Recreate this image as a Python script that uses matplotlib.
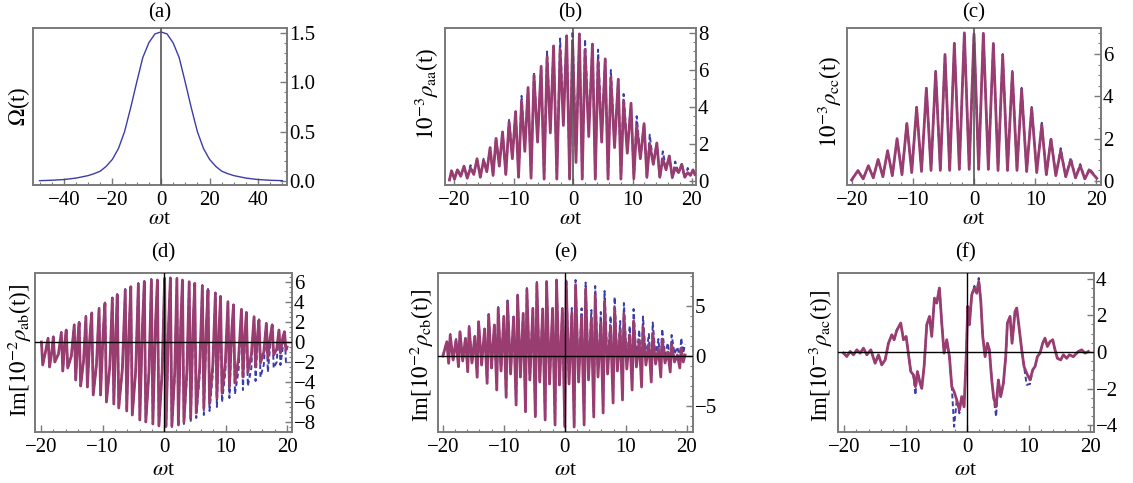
import numpy as np
import matplotlib
matplotlib.use('Agg')
import matplotlib.pyplot as plt
from matplotlib.ticker import MultipleLocator

plt.rcParams['font.family'] = ['Liberation Serif', 'DejaVu Serif']
plt.rcParams['mathtext.fontset'] = 'stix'

SOLID = '#993d71'
DASH = '#3c3ca8'
FRAME = '#7a7a7a'

# (a) pulse Omega(t)
a_t = [-50, -45, -40, -35, -30, -27.5, -25, -22.5, -20, -17.5, -15, -12.5, -10, -7.5, -5, -2.5, 0,
       2.5, 5, 7.5, 10, 12.5, 15, 17.5, 20, 22.5, 25, 27.5, 30, 35, 40, 45, 50]
a_omega = [0.004, 0.008, 0.015, 0.03, 0.055, 0.075, 0.10, 0.15, 0.22, 0.33, 0.50, 0.74, 1.00, 1.25, 1.40, 1.49, 1.51,
           1.49, 1.40, 1.25, 1.00, 0.74, 0.50, 0.33, 0.22, 0.15, 0.10, 0.075, 0.055, 0.03, 0.015, 0.008, 0.004]

# (b) rho_aa: peaks and troughs between them
b_peak_t = [-20.5, -19.5, -18.4, -17.3, -16.2, -15.1, -14.0, -13.0, -11.9, -10.8, -9.7, -8.7, -7.6, -6.6,
            -5.4, -4.4, -3.3, -2.2, -1.1, -0.1, 1.05, 2.0, 3.25, 4.2, 5.4, 6.35, 7.6, 8.5, 9.75, 10.7,
            11.95, 12.9, 14.1, 15.1, 16.2, 17.2, 18.3, 19.3, 20.2]
b_peak_solid = [0.55, 0.6, 0.8, 0.7, 1.2, 1.1, 1.8, 2.3, 2.65, 3.2, 3.75, 4.3, 5.05, 5.7, 6.2, 6.7, 7.3,
                7.1, 7.85, 7.6, 7.95, 7.1, 7.4, 6.5, 6.6, 5.6, 5.5, 4.3, 4.2, 3.0, 3.1, 2.0, 2.05, 1.2,
                1.35, 0.7, 0.9, 0.45, 0.6]
b_peak_dash = [0.55, 0.65, 0.8, 0.85, 1.2, 1.2, 1.8, 2.35, 2.65, 3.3, 3.75, 4.6, 5.05, 5.9, 6.2, 7.0, 7.3,
               7.7, 7.85, 8.1, 7.95, 7.66, 7.4, 7.1, 6.6, 6.0, 5.5, 4.7, 4.2, 3.5, 3.1, 2.5, 2.05, 1.6,
               1.35, 1.05, 0.9, 0.7, 0.6]
b_trough_solid = [0.1, 0.25, 0.15, 0.35, 0.2, 0.5, 0.3, 0.8, 0.35, 1.2, 0.2, 1.6, 0.15, 2.1, 0.1, 2.6,
                  0.1, 3.0, 0.1, 1.0, 0.1, 2.4, 0.1, 2.1, 0.1, 1.8, 0.1, 1.5, 0.15, 1.2, 0.2, 0.9, 0.2,
                  0.6, 0.2, 0.45, 0.2, 0.3]
b_trough_dash = [0.1, 0.25, 0.15, 0.35, 0.2, 0.5, 0.3, 0.8, 0.35, 1.3, 0.2, 1.8, 0.15, 2.3, 0.1, 2.8,
                 0.1, 3.4, 0.1, 1.2, 0.1, 2.8, 0.1, 2.5, 0.1, 2.0, 0.1, 1.7, 0.1, 1.3, 0.1, 0.9, 0.1,
                 0.7, 0.15, 0.4, 0.15, 0.3]

# (c) rho_cc
c_peak_t = [-19.0, -17.3, -15.7, -14.15, -12.6, -11.0, -9.4, -7.8, -6.28, -4.75, -3.22, -1.58, 0.0,
            1.53, 3.17, 4.7, 6.28, 7.8, 9.45, 11.1, 12.6, 14.2, 15.85, 17.4, 18.9]
c_peak_solid = [0.49, 0.72, 1.02, 1.43, 2.0, 2.72, 3.48, 4.38, 5.17, 5.98, 6.5, 7.0, 6.95,
                6.98, 6.5, 5.95, 5.12, 4.33, 3.43, 2.65, 1.97, 1.43, 0.99, 0.72, 0.52]
c_peak_dash = [0.49, 0.72, 1.02, 1.43, 2.0, 2.72, 3.5, 4.4, 5.2, 6.0, 6.52, 7.0, 6.95,
               7.0, 6.55, 6.0, 5.2, 4.4, 3.5, 2.75, 2.05, 1.55, 1.1, 0.8, 0.6]
c_trough = [0.1, 0.15, 0.2, 0.25, 0.3, 0.4, 0.45, 0.5, 0.5, 0.5, 0.55, 0.55,
            0.55, 0.55, 0.5, 0.5, 0.5, 0.45, 0.4, 0.3, 0.25, 0.2, 0.15, 0.1]

# (d) Im rho_ab: spikes (top, bottom) with a level between spikes
d_t = [-18.75, -17.9, -16.6, -15.8, -14.5, -13.7, -12.6, -11.65, -10.46, -9.5, -8.3, -7.5, -6.2, -5.3,
       -4.07, -3.1, -1.95, -0.97, 0.2, 1.14, 2.2, 3.1, 4.2, 5.1, 6.34, 7.26, 8.46, 9.3, 10.5, 11.4,
       12.7, 13.5, 14.75, 15.55, 16.75, 17.7, 18.8, 19.7]
d_top_solid = [0.37, 0.5, 0.93, 1.2, 1.7, 1.93, 2.53, 2.87, 3.37, 3.87, 4.37, 4.7, 5.2, 5.53, 5.8, 6.03,
               6.2, 6.2, 6.37, 6.37, 6.37, 6.2, 6.03, 5.87, 5.6, 5.2, 4.87, 4.53, 4.03, 3.7, 3.27, 2.93,
               2.53, 2.2, 1.87, 1.7, 1.2, 1.03]
d_top_dash = [0.4, 0.55, 1.0, 1.25, 1.75, 2.0, 2.6, 2.95, 3.45, 3.95, 4.45, 4.8, 5.3, 5.6, 5.9, 6.1,
              6.3, 6.3, 6.45, 6.45, 6.45, 6.3, 6.1, 5.95, 5.7, 5.3, 4.95, 4.6, 4.1, 3.75, 3.3, 3.0,
              2.6, 2.25, 1.9, 1.75, 1.25, 1.05]
d_bot_solid = [-2.5, -2.0, -2.9, -2.6, -3.8, -4.4, -4.5, -5.3, -5.3, -6.0, -6.2, -6.6, -6.9, -7.3, -7.8,
               -8.0, -8.2, -8.4, -8.4, -8.4, -8.3, -8.0, -7.6, -7.1, -6.6, -6.1, -5.6, -5.1, -4.5, -4.1,
               -3.5, -3.0, -2.5, -2.1, -1.6, -1.3, -1.1, -0.8]
d_bot_dash = [-2.5, -2.0, -2.9, -2.6, -3.8, -4.4, -4.5, -5.3, -5.3, -6.0, -6.2, -6.6, -6.9, -7.3, -7.8,
              -8.0, -8.2, -8.4, -8.5, -8.5, -8.4, -8.2, -8.0, -7.6, -7.3, -6.9, -6.5, -6.0, -5.6, -5.2,
              -4.8, -4.4, -3.9, -3.5, -3.0, -2.6, -2.3, -2.0]
d_mid_solid = [-1.0, -1.2, 0.0, -1.4, 0.3, -1.8, 0.6, -2.2, 0.9, -2.5, 1.1, -2.7, 1.4, -2.9, 1.6, -3.0,
               1.8, -3.0, 1.9, -3.0, 1.9, -2.8, 1.8, -2.6, 1.6, -2.3, 1.4, -2.0, 1.2, -1.6, 1.0, -1.3,
               0.8, -1.0, 0.6, -0.7, 0.5]
d_mid_dash = [-1.0, -1.2, 0.0, -1.4, 0.3, -1.8, 0.6, -2.2, 0.9, -2.5, 1.1, -2.7, 1.4, -2.9, 1.6, -3.0,
              1.8, -3.0, 1.7, -3.4, 1.6, -3.4, 1.4, -3.3, 1.2, -3.2, 1.0, -3.0, 0.7, -2.8, 0.4, -2.6,
              0.1, -2.3, -0.2, -2.0, -0.5]

# (e) Im rho_cb: per cycle main peak P, shallow dip q, side peak S, deep dip D
e_t = [-18.8, -17.2, -15.7, -14.15, -12.5, -10.93, -9.4, -7.75, -6.23, -4.6, -3.0, -1.37, 0.22,
       1.75, 3.4, 4.97, 6.5, 8.15, 9.67, 11.26, 12.8, 14.4, 15.95, 17.5, 19.07]
e_P_solid = [2.1, 2.43, 2.87, 3.43, 4.1, 4.77, 5.43, 6.1, 6.67, 7.27, 7.43, 7.6, 7.4,
             7.1, 6.7, 6.1, 5.5, 4.8, 4.2, 3.5, 2.9, 2.3, 1.7, 1.2, 0.8]
e_P_dash = [2.2, 2.55, 3.0, 3.55, 4.2, 4.9, 5.55, 6.2, 6.8, 7.4, 7.6, 7.75, 7.7,
            7.6, 7.35, 7.0, 6.5, 5.9, 5.3, 4.7, 3.95, 3.35, 2.7, 2.1, 1.8]
e_q_solid = [-0.4, -0.5, -0.7, -0.9, -1.2, -1.5, -1.8, -2.1, -2.4, -2.6, -2.8, -2.9,
             -2.8, -2.6, -2.4, -2.1, -1.8, -1.5, -1.3, -1.1, -0.9, -0.8, -0.7, -0.6]
e_q_dash = [-0.4, -0.5, -0.7, -0.9, -1.2, -1.5, -1.8, -2.1, -2.4, -2.6, -2.8, -2.9,
            -2.6, -2.3, -2.0, -1.6, -1.2, -0.9, -0.6, -0.4, -0.2, 0.0, 0.1, 0.2]
e_S_solid = [1.6, 1.77, 1.93, 2.67, 3.1, 3.93, 3.87, 4.27, 4.77, 4.67, 4.77, 4.7,
             4.3, 4.0, 3.8, 3.4, 3.0, 2.6, 2.1, 1.6, 1.2, 0.8, 0.4, 0.1]
e_S_dash = [1.7, 1.85, 2.0, 2.75, 3.2, 4.0, 3.95, 4.35, 4.85, 4.75, 4.85, 4.8,
            4.8, 4.77, 4.6, 4.4, 4.0, 3.5, 3.0, 2.6, 2.2, 1.7, 1.3, 0.9]
e_D_solid = [-1.07, -1.57, -2.13, -2.73, -3.4, -4.13, -4.9, -5.57, -6.07, -6.4, -6.9, -7.07,
             -7.1, -6.9, -6.1, -5.7, -4.7, -4.4, -3.4, -3.1, -2.6, -2.1, -1.6, -1.2]
e_D_dash = [-1.07, -1.57, -2.13, -2.73, -3.4, -4.13, -4.9, -5.57, -6.07, -6.4, -6.9, -7.07,
            -7.0, -6.5, -5.6, -5.0, -4.0, -3.5, -2.6, -2.1, -1.5, -1.0, -0.5, -0.2]

# (f) Im rho_ac
f_t = [-20.1, -19.57, -19.02, -18.48, -17.94, -17.4, -16.86, -16.31, -15.66, -14.96,
       -14.42, -13.88, -13.33, -12.79, -12.25, -11.87, -11.44, -10.79, -10.35, -9.92,
       -9.16, -8.73, -8.4, -8.08, -7.64, -7.37, -6.99, -6.56, -6.12, -5.75,
       -5.31, -4.93, -4.5, -4.12, -3.74, -3.31, -2.87, -2.49, -2.11, -1.68,
       -1.25, -0.87, -0.49, -0.16, 0.11, 0.38, 0.76, 1.19, 1.57, 1.9,
       2.22, 2.55, 2.93, 3.31, 3.63, 4.01, 4.34, 4.72, 5.09, 5.47,
       5.91, 6.29, 6.56, 6.99, 7.32, 7.8, 8.08, 8.51, 8.89, 9.27,
       9.7, 10.24, 10.68, 11.06, 11.44, 11.87, 12.3, 12.68, 13.06, 13.5,
       13.93, 14.31, 14.69, 15.23, 15.66, 16.21, 16.64, 17.29, 18.1, 18.64,
       19.19, 19.73]
f_solid = [-0.07, -0.25, 0.02, -0.16, 0.11, -0.07, 0.2, -0.16, 0.11, -0.62,
           -0.16, -0.71, -0.44, 0.47, 0.93, 0.66, 1.17, 1.57, 0.66, 0.84,
           -1.07, -1.26, -1.9, -1.07, -1.71, -1.99, -0.8, 1.48, 1.93, 0.84,
           2.93, 2.66, 3.48, 1.57, -0.07, 0.66, -0.26, -1.89, -2.17, -2.62,
           -3.17, -2.44, -3.0, -0.44, 2.48, 1.48, 3.11, 3.48, 3.2, 3.84,
           2.84, 0.84, -0.26, 0.47, 0.11, -1.53, -2.53, -2.99, -1.53, -2.44,
           -1.71, -0.26, 1.57, 1.93, 0.47, 2.2, 2.39, 1.2, 0.11, -0.8,
           -1.17, -1.53, -0.98, -0.8, -0.26, -0.07, 0.47, 0.75, 0.29, 0.56,
           0.66, 0.11, -0.35, -0.44, -0.16, -0.35, -0.16, -0.26, 0.02, 0.11,
           -0.07, 0.02]
f_dash = [-0.07, -0.25, 0.02, -0.16, 0.11, -0.07, 0.2, -0.16, 0.11, -0.62,
          -0.16, -0.71, -0.44, 0.47, 0.93, 0.66, 1.17, 1.57, 0.66, 0.84,
          -1.07, -1.26, -2.35, -1.07, -1.71, -1.99, -0.8, 1.48, 1.93, 0.84,
          2.93, 2.66, 3.55, 1.57, -0.07, 0.66, -0.26, -1.89, -4.08, -2.62,
          -3.35, -2.44, -3.0, -0.44, 2.48, 1.48, 3.11, 3.6, 3.2, 4.03,
          2.84, 0.84, -0.26, 0.47, 0.11, -1.53, -2.53, -3.53, -1.53, -2.44,
          -1.71, -0.26, 1.57, 1.93, 0.47, 2.2, 2.39, 1.2, 0.11, -0.8,
          -1.8, -1.75, -0.98, -0.8, -0.26, -0.07, 0.47, 0.75, 0.29, 0.56,
          0.66, 0.11, -0.35, -0.44, -0.16, -0.35, -0.16, -0.26, 0.02, 0.11,
          -0.07, 0.02]


def chain_peaks(t0, v0, tp, vp, vt, t1, v1):
    t, v = [t0], [v0]
    for i in range(len(tp)):
        t.append(tp[i])
        v.append(vp[i])
        if i < len(vt):
            t.append(0.5 * (tp[i] + tp[i + 1]))
            v.append(vt[i])
    t.append(t1)
    v.append(v1)
    return t, v


def chain_spikes(t0, v0, tk, top, bot, mid, t1, v1):
    t, v = list(t0), list(v0)
    for i in range(len(tk)):
        t += [tk[i] - 0.12, tk[i] + 0.12]
        v += [top[i], bot[i]]
        if i < len(mid):
            t.append(0.5 * (tk[i] + tk[i + 1]) + 0.06)
            v.append(mid[i])
    return t + list(t1), v + list(v1)


def chain_cycles(t0, v0, tk, P, q, S, D, t1, v1):
    t, v = list(t0), list(v0)
    for i in range(len(tk)):
        t.append(tk[i])
        v.append(P[i])
        if i < len(tk) - 1:
            dt = tk[i + 1] - tk[i]
            t += [tk[i] + 0.3 * dt, tk[i] + 0.6 * dt, tk[i] + 0.85 * dt]
            v += [q[i], S[i], D[i]]
    return t + list(t1), v + list(v1)


def frame(ax, xlim, ylim, xmaj, xmin, ymaj, ymin):
    ax.set_xlim(xlim)
    ax.set_ylim(ylim)
    for s in ax.spines.values():
        s.set_color(FRAME)
        s.set_linewidth(1.4)
    ax.xaxis.set_major_locator(MultipleLocator(xmaj))
    ax.xaxis.set_minor_locator(MultipleLocator(xmin))
    ax.yaxis.set_major_locator(MultipleLocator(ymaj))
    ax.yaxis.set_minor_locator(MultipleLocator(ymin))
    ax.yaxis.tick_right()
    ax.tick_params(which='both', direction='in', color=FRAME, labelsize=15,
                   left=False, top=False, right=True, bottom=True)
    ax.tick_params(which='major', length=5, width=1)
    ax.tick_params(which='minor', length=2.5, width=0.8)
    ax.tick_params(axis='x', pad=4)
    ax.tick_params(axis='y', pad=1.5)


def labels(ax, title, ylabel, ly, lx, ty, xy):
    ax.text(0.5, ty, title, transform=ax.transAxes, ha='center', va='center', fontsize=15)
    ax.text(0.5, xy, r'$\omega$t', transform=ax.transAxes, ha='center', va='center', fontsize=16)
    ax.text(lx, ly, ylabel, transform=ax.transAxes, ha='center', va='center', rotation=90, fontsize=16.5)


def two_lines(ax, t_s, v_s, t_d, v_d):
    ax.plot(t_d, v_d, color=DASH, lw=1.4, dashes=(2.5, 1.5), zorder=2)
    ax.plot(t_s, v_s, color=SOLID, lw=2.0, zorder=3)


fig = plt.figure(figsize=(11.33, 4.83), dpi=100)
W, H = 1133.0, 483.0


def box(l, r, t, b):
    return [l / W, (H - b) / H, (r - l) / W, (b - t) / H]


ax_a = fig.add_axes(box(33, 287, 28, 185))
ax_b = fig.add_axes(box(445, 696, 28, 185))
ax_c = fig.add_axes(box(847, 1101, 28, 185))
ax_d = fig.add_axes(box(35, 292, 273, 432))
ax_e = fig.add_axes(box(438, 693, 273, 432))
ax_f = fig.add_axes(box(838, 1094, 273, 432))

# (a)
ax_a.plot(a_t, a_omega, color=DASH, lw=1.0, zorder=3)
frame(ax_a, (-52.7, 51.9), (-0.04, 1.55), 20, 5, 0.5, 0.1)
ax_a.axvline(0, color='#555555', lw=1.2, zorder=4)
labels(ax_a, '(a)', r'$\Omega$(t)', 0.5, -0.055, 1.095, -0.22)

# (b)
ts, vs = chain_peaks(-20.85, 0.05, b_peak_t, b_peak_solid, b_trough_solid, 20.5, 0.35)
td, vd = chain_peaks(-20.85, 0.05, b_peak_t, b_peak_dash, b_trough_dash, 20.5, 0.3)
two_lines(ax_b, ts, vs, td, vd)
frame(ax_b, (-21.6, 20.7), (-0.22, 8.27), 10, 2, 2, 0.5)
ax_b.axvline(0, color='#555555', lw=1.2, zorder=4)
labels(ax_b, '(b)', r'$10^{-3}\rho_{\rm aa}$(t)', 0.58, -0.074, 1.095, -0.22)

# (c)
ts, vs = chain_peaks(-20.05, 0.05, c_peak_t, c_peak_solid, c_trough, 20.1, 0.13)
td, vd = chain_peaks(-20.05, 0.05, c_peak_t, c_peak_dash, c_trough, 20.1, 0.13)
two_lines(ax_c, ts, vs, td, vd)
frame(ax_c, (-20.8, 20.8), (-0.19, 7.23), 10, 2, 2, 0.5)
ax_c.axvline(0, color='#555555', lw=1.2, zorder=4)
labels(ax_c, '(c)', r'$10^{-3}\rho_{\rm cc}$(t)', 0.53, -0.069, 1.095, -0.22)

# (d)
ts, vs = chain_spikes([-19.95, -19.75, -19.3], [0.0, -2.3, -1.0], d_t, d_top_solid, d_bot_solid,
                      d_mid_solid, [20.0], [-0.5])
td, vd = chain_spikes([-19.95, -19.75, -19.3], [0.0, -2.3, -1.0], d_t, d_top_dash, d_bot_dash,
                      d_mid_dash, [20.0], [-2.0])
two_lines(ax_d, ts, vs, td, vd)
frame(ax_d, (-21.0, 20.8), (-9.0, 6.9), 10, 2, 2, 0.5)
ax_d.axvline(0, color='black', lw=1.0, zorder=4)
ax_d.axhline(0, color='black', lw=1.0, zorder=4)
labels(ax_d, '(d)', r'Im[$10^{-2}\rho_{\rm ab}$(t)]', 0.516, -0.06, 1.125, -0.245)

# (e)
ts, vs = chain_cycles([-20.0, -19.35, -19.05], [0.0, 1.43, -0.73], e_t, e_P_solid, e_q_solid,
                      e_S_solid, e_D_solid, [19.4, 19.7], [-0.6, 0.1])
td, vd = chain_cycles([-20.0, -19.35, -19.05], [0.0, 1.43, -0.73], e_t, e_P_dash, e_q_dash,
                      e_S_dash, e_D_dash, [19.4, 19.7], [0.3, 1.2])
two_lines(ax_e, ts, vs, td, vd)
frame(ax_e, (-20.8, 21.0), (-7.6, 8.3), 10, 2, 5, 1)
ax_e.axvline(0, color='black', lw=1.0, zorder=4)
ax_e.axhline(0, color='black', lw=1.0, zorder=4)
labels(ax_e, '(e)', r'Im[$10^{-2}\rho_{\rm cb}$(t)]', 0.48, -0.065, 1.125, -0.245)

# (f)
two_lines(ax_f, f_t, f_solid, f_t, f_dash)
frame(ax_f, (-21.0, 20.65), (-4.37, 4.3), 10, 2, 2, 0.5)
ax_f.axvline(0, color='black', lw=1.0, zorder=4)
ax_f.axhline(0, color='black', lw=1.0, zorder=4)
labels(ax_f, '(f)', r'Im[$10^{-3}\rho_{\rm ac}$(t)]', 0.48, -0.065, 1.125, -0.245)

fig.savefig('out.png', dpi=100)
